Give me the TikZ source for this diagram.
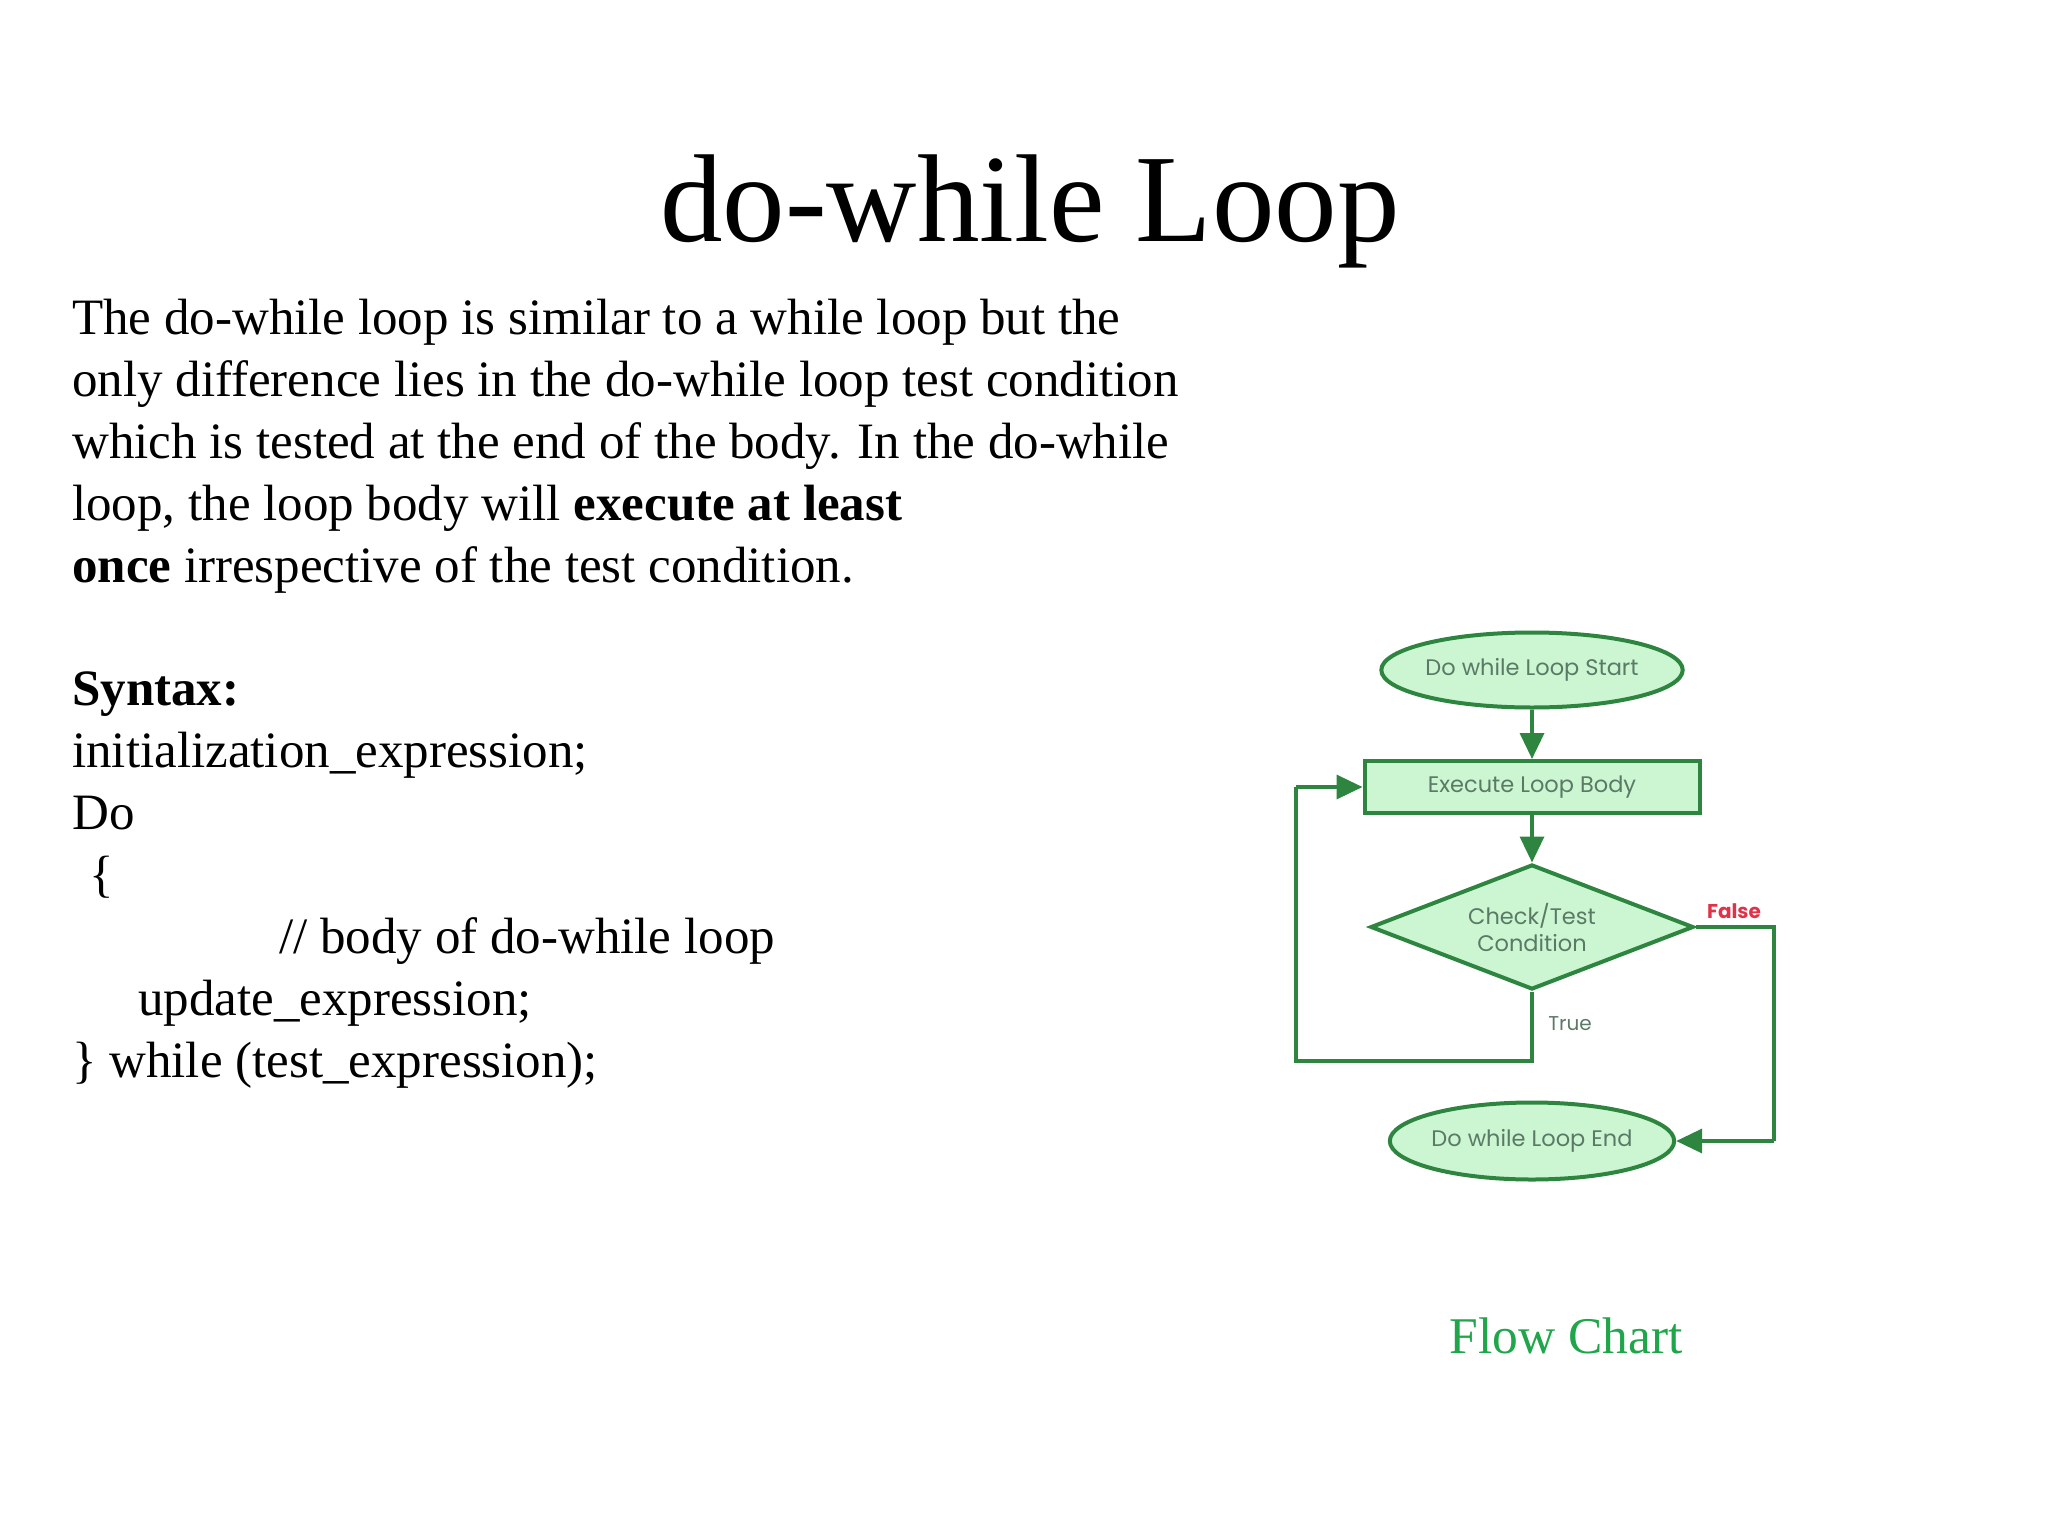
\documentclass[tikz,border=0pt]{standalone}
\usepackage{fontspec}
\setmainfont{Liberation Serif}
\newfontfamily\fcfont{Poppins}
\usetikzlibrary{shapes.geometric,arrows.meta}
\definecolor{fcline}{HTML}{2E8540}
\definecolor{fcfill}{HTML}{CCF5D2}
\definecolor{fctext}{HTML}{5A7A66}
\definecolor{fcred}{HTML}{E0334A}
\definecolor{chartgreen}{HTML}{1FA64A}
\begin{document}
\begin{tikzpicture}[x=1pt,y=-1pt,
  body/.style={anchor=base west,inner sep=0,font=\fontsize{51}{60}\selectfont},
  fcshape/.style={draw=fcline,fill=fcfill,line width=4pt,inner sep=0,text=fctext,font=\fcfont\fontsize{22.5}{27}\selectfont,align=center},
  conn/.style={draw=fcline,line width=3.5pt,-{Triangle[length=26pt,width=24pt]}},
  plain/.style={draw=fcline,line width=3.5pt}]
\useasboundingbox (0,0) rectangle (2048,1536);
\node[anchor=base,inner sep=0,font=\fontsize{125}{140}\selectfont] (title) at (1030,241) {do-while Loop};
\node[body] (l1) at (72,334) {The do-while loop is similar to a while loop but the};
\node[body] (l2) at (72,396) {only difference lies in the do-while loop test condition};
\node[body] (l3) at (72,458) {which is tested at the end of the body. In the do-while};
\node[body] (l4) at (72,520) {loop, the loop body will \textbf{execute at least}};
\node[body] (l5) at (72,582) {\textbf{once} irrespective of the test condition.};
\node[body] (s1) at (72,705) {\textbf{Syntax:}};
\node[body] (s2) at (72,767) {initialization\_expression;};
\node[body] (s3) at (72,829) {Do};
\node[body] (s4) at (89,891) {\{};
\node[body] (s5) at (279,953) {// body of do-while loop};
\node[body] (s6) at (138,1015) {update\_expression;};
\node[body] (s7) at (72,1077) {\} while (test\_expression);};
\node[anchor=base,inner sep=0,text=chartgreen,font=\fontsize{51.5}{60}\selectfont] (fc) at (1566,1353) {Flow Chart};

\node[fcshape,ellipse,minimum width=259pt,minimum height=75pt] (start) at (1532,670) {Do while Loop Start};
\node[fcshape,rectangle,minimum width=335pt,minimum height=52pt] (exec) at (1532,787) {Execute Loop Body};
\node[fcshape,diamond,minimum width=323pt,minimum height=125pt,aspect=2.58] (cond) at (1532,927) {Check/Test\\Condition};
\node[fcshape,ellipse,minimum width=259pt,minimum height=77pt] (end) at (1532,1141) {Do while Loop End};
\coordinate (bl) at (1296,1061);
\coordinate (br) at (1532,1061);
\coordinate (tl) at (1296,787);
\coordinate (fr) at (1774,927);
\coordinate (er) at (1774,1141);
\draw[conn] (start) -- (exec);
\draw[conn] (exec) -- (cond);
\draw[plain] (cond.south) -- (br) -- (bl) -- (tl);
\draw[conn] (tl) -- (exec.west);
\draw[plain] (cond.east) -- (fr) -- (er);
\draw[conn] (er) -- (end.east);
\node[text=fcred,font=\fcfont\fontsize{20}{24}\selectfont\bfseries,inner sep=0] (false) at (1734,911) {False};
\node[text=fctext,font=\fcfont\fontsize{20}{24}\selectfont,inner sep=0] (true) at (1570,1024) {True};
\end{tikzpicture}
\end{document}
